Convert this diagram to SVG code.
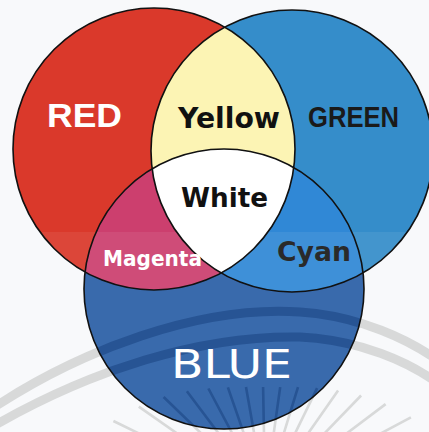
<svg xmlns="http://www.w3.org/2000/svg" width="429" height="432" viewBox="0 0 429 432">
<style>
.edge{fill:none;stroke:#111;stroke-width:1.6}
.lbl{font-family:"DejaVu Sans",sans-serif;font-weight:bold}
.band{fill:none;stroke-width:9}
.ray{fill:none;stroke-width:2.6}
</style>
<defs>
<clipPath id="cR"><circle cx="154" cy="149" r="141"/></clipPath>
<clipPath id="cG"><circle cx="292" cy="151" r="141"/></clipPath>
<clipPath id="cB"><circle cx="224" cy="289" r="140"/></clipPath>
<g id="wm">
<path class="band" d="M-10,410 C80,350 200,305 300,312 C360,316 410,340 440,362"/>
<path class="band" d="M-10,428 C90,370 200,335 300,337 C360,340 410,362 440,385"/>
<path class="ray" d="M318,466.8L410.9,417.4M312.9,458.9L385.6,404.1M306.7,451.8L361.1,395.5M299.4,445.8L338.1,390.6M291.3,441.1L317.1,388.1M282.5,437.6L298,387.2M273.4,435.6L280.2,387.1M264,435L263.1,387M254.6,435.9L246,387.1M245.5,438.3L227.9,387.3M236.8,442L208.4,388.5M228.9,447.1L186.9,391.3M221.8,453.3L163.6,397M215.8,460.6L138.8,406.6M211.1,468.7L113.4,421"/>
</g>
</defs>
<rect width="429" height="432" fill="#f8f9fb"/>
<g id="watermark" stroke="#d5d7d7"><use href="#wm"/></g>
<g id="red"><circle cx="154" cy="149" r="141" fill="#da392b"/></g>
<g id="green"><circle cx="292" cy="151" r="141" fill="#358dca"/></g>
<g id="blue"><circle cx="224" cy="289" r="140" fill="#2b5fa6"/>
<g clip-path="url(#cB)" stroke="#17488c"><use href="#wm"/></g>
</g>
<g id="yellow"><circle cx="292" cy="151" r="141" fill="#fcf4b4" clip-path="url(#cR)"/></g>
<g id="magenta"><circle cx="224" cy="289" r="140" fill="#cc3f6e" clip-path="url(#cR)"/></g>
<g id="cyan"><circle cx="224" cy="289" r="140" fill="#3088d6" clip-path="url(#cG)"/></g>
<g id="white" clip-path="url(#cR)"><circle cx="224" cy="289" r="140" fill="#ffffff" clip-path="url(#cG)"/></g>
<rect x="0" y="232" width="429" height="200" fill="#ffffff" opacity="0.07"/>
<g id="edges">
<circle class="edge" cx="154" cy="149" r="141"/>
<circle class="edge" cx="292" cy="151" r="141"/>
<circle class="edge" cx="224" cy="289" r="140"/>
</g>
<g id="labels">
<text x="47" y="127" font-family="Liberation Sans, Arial, sans-serif" font-weight="bold" font-size="33.5" fill="#fff" textLength="75" lengthAdjust="spacingAndGlyphs">RED</text>
<text class="lbl" x="178" y="128" font-size="27.5" fill="#111" textLength="102" lengthAdjust="spacingAndGlyphs">Yellow</text>
<text x="308" y="127" font-family="Liberation Sans, Arial, sans-serif" font-weight="bold" font-size="29" fill="#1a1a1a" textLength="91" lengthAdjust="spacingAndGlyphs">GREEN</text>
<text class="lbl" x="181" y="207" font-size="27" fill="#111" textLength="87" lengthAdjust="spacingAndGlyphs">White</text>
<text class="lbl" x="103" y="266" font-size="21" fill="#fff" textLength="99" lengthAdjust="spacingAndGlyphs">Magenta</text>
<text class="lbl" x="277" y="261" font-size="26.5" fill="#2a2a2a" textLength="74" lengthAdjust="spacingAndGlyphs">Cyan</text>
<text x="171" y="378" font-family="DejaVu Sans, sans-serif" font-size="38.5" fill="#fff" textLength="121" lengthAdjust="spacingAndGlyphs">BLUE</text>
</g>
</svg>
